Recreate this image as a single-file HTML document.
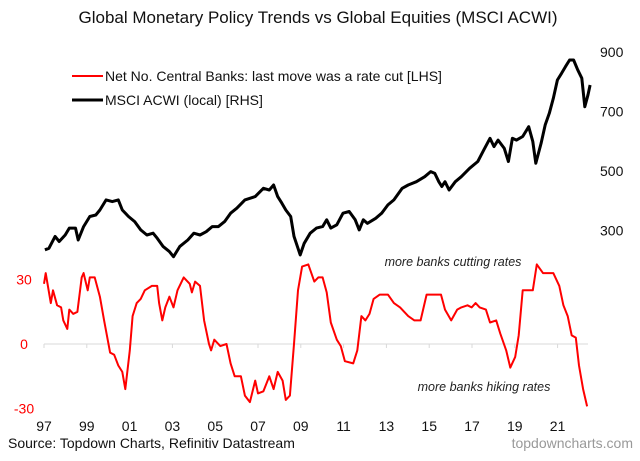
<!DOCTYPE html>
<html><head><meta charset="utf-8">
<style>
body{margin:0;background:#fff;}
svg text{font-family:"Liberation Sans",Arial,sans-serif;}
</style></head>
<body>
<svg id="chart" width="640" height="456" viewBox="0 0 640 456" xmlns="http://www.w3.org/2000/svg">
<rect width="640" height="456" fill="#fff"/>
<text x="318" y="23" text-anchor="middle" font-size="17" fill="#111">Global Monetary Policy Trends vs Global Equities (MSCI ACWI)</text>
<g>
<line x1="72" y1="76" x2="103" y2="76" stroke="#f00" stroke-width="2"/>
<text x="105" y="81" font-size="14" fill="#111">Net No. Central Banks: last move was a rate cut [LHS]</text>
<line x1="72" y1="100" x2="103" y2="100" stroke="#000" stroke-width="3"/>
<text x="105" y="105" font-size="14" fill="#111">MSCI ACWI (local) [RHS]</text>
</g>
<g id="axes"></g>
<g id="series"></g>
<text x="453" y="266" text-anchor="middle" font-size="12.5" font-style="italic" fill="#222">more banks cutting rates</text>
<text x="484" y="391" text-anchor="middle" font-size="12.5" font-style="italic" fill="#222">more banks hiking rates</text>
<text x="8" y="448" font-size="14" fill="#111">Source: Topdown Charts, Refinitiv Datastream</text>
<text x="633" y="448" text-anchor="end" font-size="14" fill="#999">topdowncharts.com</text>
</svg>
<script>
const xTickLabels=["97","99","01","03","05","07","09","11","13","15","17","19","21"];
const xTickYears=[1997,1999,2001,2003,2005,2007,2009,2011,2013,2015,2017,2019,2021];
const leftTicks=[30,0,-30];
const rightTicks=[900,700,500,300];
const redYears=[1997,1997.08,1997.32,1997.42,1997.61,1997.8,1997.9,1998.09,1998.18,1998.37,1998.56,1998.76,1998.85,1999.04,1999.14,1999.37,1999.61,1999.81,1999.94,2000.09,2000.28,2000.47,2000.66,2000.8,2001.01,2001.14,2001.33,2001.52,2001.71,2002.04,2002.29,2002.38,2002.53,2002.67,2002.86,2003.05,2003.24,2003.53,2003.81,2003.91,2004.06,2004.29,2004.48,2004.71,2004.81,2004.96,2005.24,2005.53,2005.72,2005.91,2006.2,2006.39,2006.62,2006.87,2007,2007.25,2007.53,2007.73,2007.92,2008.15,2008.3,2008.49,2008.68,2008.87,2009.06,2009.35,2009.63,2009.82,2010.02,2010.21,2010.4,2010.68,2010.87,2011.06,2011.45,2011.64,2011.83,2012.02,2012.21,2012.4,2012.69,2013.07,2013.35,2013.64,2013.83,2014.02,2014.31,2014.6,2014.88,2015.55,2015.74,2016.03,2016.31,2016.5,2016.79,2016.98,2017.17,2017.36,2017.65,2017.84,2018.13,2018.32,2018.6,2018.79,2019.02,2019.18,2019.37,2019.84,2020.03,2020.32,2020.8,2021.08,2021.27,2021.47,2021.66,2021.85,2022,2022.19,2022.38];
const redValues=[28,33,19,25,18,17,11,7,16,14,15,31,33,25,31,31,22,11,4,-4,-5,-10,-13,-21,-3,13,19,21,25,27,27,19,11,17,22,17,25,31,28,24,29,27,11,0,-3,2,-1,0,-9,-15,-15,-24,-27,-17,-23,-22,-15,-21,-13,-17,-26,-24,0,25,36,37,29,31,31,24,10,2,-1,-8,-9,-3,13,11,14,21,23,23,19,17,15,13,11,11,23,23,16,11,16,17,18,17,19,17,16,10,11,5,-3,-11,-6,4,25,25,37,33,33,27,18,13,4,3,-10,-21,-29];
const blackYears=[1997.04,1997.23,1997.52,1997.71,1997.99,1998.18,1998.47,1998.6,1998.85,1999.14,1999.42,1999.61,1999.9,2000.19,2000.47,2000.66,2000.95,2001.24,2001.52,2001.81,2002.1,2002.29,2002.57,2002.86,2003.05,2003.34,2003.72,2004,2004.29,2004.58,2004.86,2005.15,2005.44,2005.72,2006.01,2006.39,2006.87,2007.25,2007.53,2007.73,2007.92,2008.11,2008.3,2008.53,2008.68,2008.87,2008.97,2009.16,2009.44,2009.73,2010.02,2010.21,2010.4,2010.68,2010.97,2011.26,2011.54,2011.73,2011.92,2012.11,2012.5,2012.78,2013.07,2013.35,2013.74,2014.02,2014.4,2014.79,2015.07,2015.26,2015.45,2015.59,2015.74,2015.93,2016.22,2016.5,2016.89,2017.27,2017.55,2017.84,2018.03,2018.22,2018.51,2018.7,2018.89,2019.08,2019.37,2019.65,2019.84,2019.98,2020.23,2020.42,2020.61,2020.8,2020.99,2021.18,2021.37,2021.56,2021.75,2021.94,2022.13,2022.27,2022.42,2022.52];
const blackValues=[235,240,280,263,285,308,308,268,313,347,352,369,403,397,403,369,347,330,302,285,291,274,246,229,212,246,268,291,285,296,313,313,330,358,375,403,414,442,436,453,414,392,369,347,280,240,218,257,291,308,313,336,308,319,358,364,336,302,336,324,341,358,386,403,442,453,464,481,498,492,464,448,464,436,464,481,509,532,571,610,582,604,576,532,610,604,616,649,599,526,593,655,694,744,806,828,851,873,873,840,812,716,756,789];

const NS="http://www.w3.org/2000/svg";
const x=t=>44+(t-1997)*21.4;
const yL=v=>344-v*2.15;
const yR=v=>52+(900-v)*0.2975;
function mk(tag,attrs,parent){const e=document.createElementNS(NS,tag);for(const k in attrs)e.setAttribute(k,attrs[k]);parent.appendChild(e);return e;}
const axes=document.getElementById('axes');
const zl=mk('line',{x1:44,x2:588,y1:yL(0),y2:yL(0),stroke:'#d9d9d9','stroke-width':1},axes);


xTickYears.forEach((yr,i)=>{
  const tk=mk('line',{x1:x(yr),x2:x(yr),y1:yL(0),y2:yL(0)+4,stroke:'#d9d9d9','stroke-width':1},axes);
  
  
  const t=mk('text',{x:x(yr),y:431,'text-anchor':'middle','font-size':14,fill:'#111'},axes);
  t.textContent=xTickLabels[i];
  
  
});
leftTicks.forEach(v=>{
  const t=mk('text',{x:24,y:yL(v)+5,'text-anchor':'middle','font-size':14,fill:'#f00'},axes);
  t.textContent=v;
  
  
});
rightTicks.forEach(v=>{
  const t=mk('text',{x:600,y:yR(v)+5,'font-size':14,fill:'#111'},axes);
  t.textContent=v;
  
  
});
const series=document.getElementById('series');
const bp=blackYears.map((t,i)=>x(t).toFixed(1)+','+yR(blackValues[i]).toFixed(1)).join(' ');
const bl=mk('polyline',{points:bp,fill:'none',stroke:'#000','stroke-width':3,'stroke-linejoin':'round'},series);


const rp=redYears.map((t,i)=>x(t).toFixed(1)+','+yL(redValues[i]).toFixed(1)).join(' ');
const rl=mk('polyline',{points:rp,fill:'none',stroke:'#f00','stroke-width':2,'stroke-linejoin':'round'},series);


</script>
</body></html>
